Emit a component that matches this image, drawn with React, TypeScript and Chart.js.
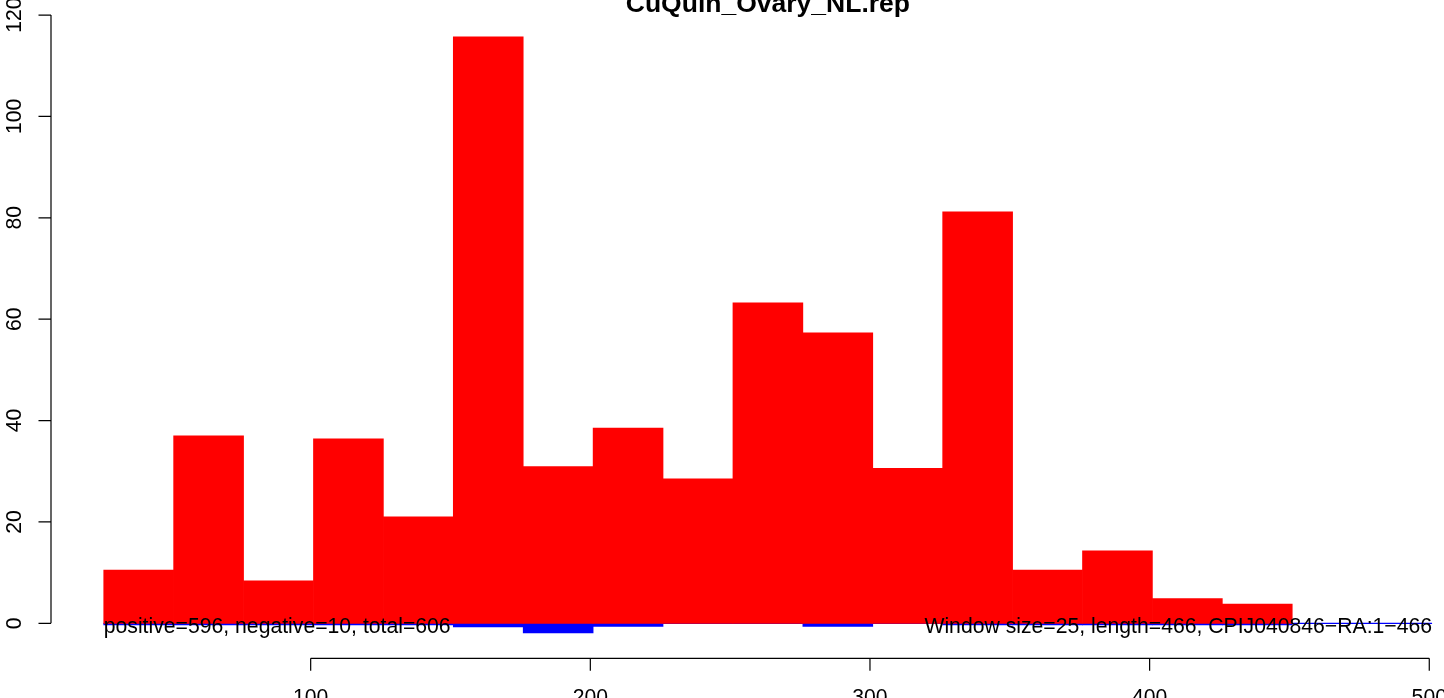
import React, { useEffect, useRef } from "react";
import { Chart, registerables } from "chart.js";

Chart.register(...registerables);

// ---- data ----
const chartTitle = "CuQuin_Ovary_NL.rep";
const windowSize = 25;
const windowStarts = [26, 51, 76, 101, 126, 151, 176, 201, 226, 251, 276, 301, 326, 351, 376, 401, 426];
const positiveCounts = [10.5, 37.0, 8.4, 36.4, 21.0, 115.7, 30.9, 38.5, 28.5, 63.2, 57.3, 30.6, 81.2, 10.5, 14.3, 4.9, 3.8];
const negativeCounts = [-0.3, -0.3, -0.3, -0.3, -0.3, -0.7, -1.9, -0.6, 0, 0, -0.6, 0, -0.3, -0.3, -0.3, -0.3, -0.3];
const baselineRange = [26, 501];
const yTicks = [0, 20, 40, 60, 80, 100, 120];
const xTicks = [100, 200, 300, 400, 500];
const leftNote = "positive=596, negative=10, total=606";
const rightNote = "Window size=25, length=466, CPIJ040846\u2212RA:1\u2212466";
const xRange = [7, 520];
const yRange = [-6.9, 120.4];

const FONT = '"Liberation Sans", Arial, Helvetica, sans-serif';

const rAxesPlugin = {
  id: "rAxes",
  afterDraw(chart: any) {
    const { ctx, chartArea } = chart;
    const xs = chart.scales.x;
    const ys = chart.scales.y;
    ctx.save();
    ctx.strokeStyle = "#000";
    ctx.fillStyle = "#000";
    ctx.lineWidth = 1.2;

    // notes at y = 0
    const y0 = ys.getPixelForValue(0);
    ctx.font = `21.2px ${FONT}`;
    ctx.textBaseline = "alphabetic";
    ctx.textAlign = "left";
    ctx.fillText(leftNote, xs.getPixelForValue(baselineRange[0]), y0 + 9.5);
    ctx.textAlign = "right";
    ctx.fillText(rightNote, xs.getPixelForValue(baselineRange[1]), y0 + 9.5);

    // y axis
    const ax = Math.round(chartArea.left);
    ctx.beginPath();
    ctx.moveTo(ax, ys.getPixelForValue(yTicks[0]));
    ctx.lineTo(ax, ys.getPixelForValue(yTicks[yTicks.length - 1]));
    for (const t of yTicks) {
      const py = ys.getPixelForValue(t);
      ctx.moveTo(ax, py);
      ctx.lineTo(ax - 12.5, py);
    }
    ctx.stroke();
    ctx.textAlign = "center";
    for (const t of yTicks) {
      const py = ys.getPixelForValue(t);
      ctx.save();
      ctx.translate(21, py);
      ctx.rotate(-Math.PI / 2);
      ctx.fillText(String(t), 0, 0);
      ctx.restore();
    }

    // x axis
    const ay = chartArea.bottom;
    ctx.beginPath();
    ctx.moveTo(xs.getPixelForValue(xTicks[0]), ay);
    ctx.lineTo(xs.getPixelForValue(xTicks[xTicks.length - 1]), ay);
    for (const t of xTicks) {
      const px = xs.getPixelForValue(t);
      ctx.moveTo(px, ay);
      ctx.lineTo(px, ay + 12.5);
    }
    ctx.stroke();
    ctx.textAlign = "center";
    for (const t of xTicks) {
      ctx.fillText(String(t), xs.getPixelForValue(t), ay + 45.5);
    }

    // title
    ctx.font = `bold 26.5px ${FONT}`;
    ctx.textAlign = "center";
    ctx.fillText(chartTitle, (chartArea.left + chartArea.right) / 2, 11.5);
    ctx.restore();
  },
};

export default function App() {
  const canvasRef = useRef<HTMLCanvasElement | null>(null);

  useEffect(() => {
    const canvas = canvasRef.current;
    if (!canvas) return;
    const posData = windowStarts.map((s, i) => ({ x: s + windowSize / 2, y: positiveCounts[i] }));
    const negData = windowStarts.map((s, i) => ({ x: s + windowSize / 2, y: negativeCounts[i] }));
    const chart = new Chart(canvas, {
      type: "bar",
      data: {
        datasets: [
          {
            type: "bar",
            label: "positive",
            data: posData,
            backgroundColor: "#FF0000",
            borderWidth: 0,
            grouped: false,
            categoryPercentage: 1,
            barPercentage: 1,
          } as any,
          {
            type: "line",
            label: "baseline",
            data: baselineRange.map((v) => ({ x: v, y: 0 })),
            borderColor: "#0000FF",
            borderWidth: 1.2,
            pointRadius: 0,
            fill: false,
          } as any,
          {
            type: "bar",
            label: "negative",
            data: negData,
            backgroundColor: "#0000FF",
            borderWidth: 0,
            grouped: false,
            categoryPercentage: 1,
            barPercentage: 1,
          } as any,
        ],
      },
      options: {
        responsive: false,
        animation: false,
        devicePixelRatio: 1,
        datasets: { bar: { categoryPercentage: 1, barPercentage: 1, grouped: false } } as any,
        layout: { padding: { left: 50.6, right: 0.8, top: 13, bottom: 39.7 } },
        plugins: { legend: { display: false }, tooltip: { enabled: false }, title: { display: false } },
        scales: {
          x: {
            type: "linear",
            display: false,
            offset: false,
            min: xRange[0],
            max: xRange[1],
            afterBuildTicks: (scale: any) => {
              scale.ticks = xTicks.map((v) => ({ value: v }));
            },
          },
          y: { type: "linear", display: false, min: yRange[0], max: yRange[1] },
        },
      },
      plugins: [rAxesPlugin],
    });
    return () => chart.destroy();
  }, []);

  return (
    <div
      style={{
        position: "fixed",
        left: 0,
        top: 0,
        width: 1444,
        height: 698,
        overflow: "hidden",
        background: "#fff",
      }}
    >
      <canvas ref={canvasRef} width={1486} height={698} style={{ display: "block" }} />
    </div>
  );
}
